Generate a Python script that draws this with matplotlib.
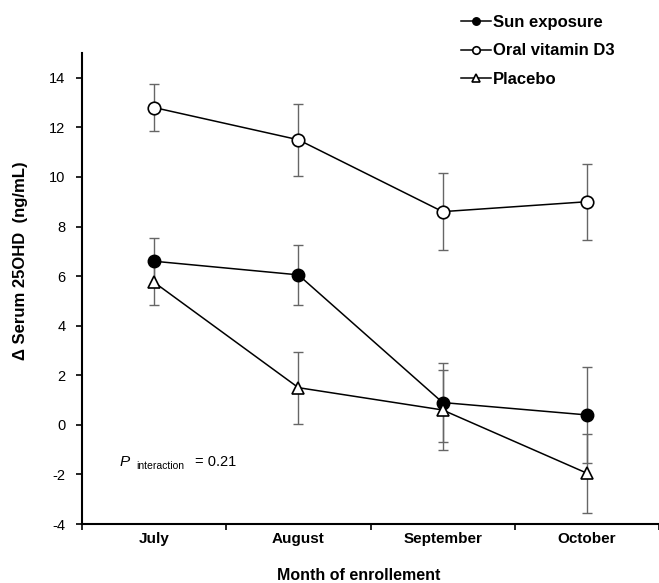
import matplotlib.pyplot as plt
import numpy as np

plt.rcParams['font.family'] = ['Liberation Sans', 'DejaVu Sans']
plt.rcParams['axes.unicode_minus'] = False

# data
months = ['July', 'August', 'September', 'October']
sun_mean = [6.6, 6.05, 0.9, 0.4]
sun_err = [0.95, 1.22, 1.6, 1.95]
oral_mean = [12.8, 11.5, 8.6, 9.0]
oral_err = [0.95, 1.45, 1.55, 1.53]
placebo_mean = [5.75, 1.5, 0.6, -1.95]
placebo_err = [0.9, 1.45, 1.6, 1.6]

W, H = 659, 583
fig = plt.figure(figsize=(W / 100, H / 100), dpi=100)
ax = fig.add_axes([82 / W, 1 - 524 / H, (659 - 82) / W, (524 - 53) / H])

x = np.arange(len(months)) + 0.5

# error bars first (thin gray), then lines + markers
for m, e in [(sun_mean, sun_err), (oral_mean, oral_err), (placebo_mean, placebo_err)]:
    ax.errorbar(x, m, yerr=e, fmt='none', ecolor='#666666', elinewidth=1,
                capsize=3.5, capthick=1, zorder=1)

ax.plot(x, sun_mean, color='black', lw=1.1, marker='o', ms=9,
        mfc='black', mec='black', label='Sun exposure', zorder=3)
ax.plot(x, oral_mean, color='black', lw=1.1, marker='o', ms=9,
        mfc='white', mec='black', mew=1.2, label='Oral vitamin D3', zorder=3)
ax.plot(x, placebo_mean, color='black', lw=1.1, marker='^', ms=9,
        mfc='white', mec='black', mew=1.2, label='Placebo', zorder=3)

ax.set_xlim(0, 4)
ax.set_ylim(-4, 15)
ax.set_yticks(np.arange(-4, 15, 2))
ax.set_xticks(np.arange(0, 5))
ax.set_xticklabels([])
ax.set_xticks(x, minor=True)
ax.set_xticklabels(months, minor=True, fontweight='bold', fontsize=11)
ax.tick_params(axis='x', which='minor', length=0, pad=6)
ax.tick_params(axis='x', which='major', length=4, width=1.2, direction='out')
ax.tick_params(axis='y', length=4, width=1.2, labelsize=10.5, pad=8)

for s in ['top', 'right']:
    ax.spines[s].set_visible(False)
for s in ['left', 'bottom']:
    ax.spines[s].set_linewidth(1.5)

fig.text(21 / W, 1 - 261 / H, 'Δ Serum 25OHD  (ng/mL)', rotation=90,
         fontweight='bold', fontsize=12, ha='center', va='center')
fig.text(359 / W, 3 / H, 'Month of enrollement', fontweight='bold',
         fontsize=11.5, ha='center', va='baseline')

ax.text(0.263, -1.65, 'P', fontsize=11, style='italic', va='baseline', ha='left')
ax.text(0.374, -1.77, 'interaction', fontsize=7.5, va='baseline', ha='left')
ax.text(0.783, -1.65, '= 0.21', fontsize=10.5, va='baseline', ha='left')

leg = fig.legend(loc='upper left', bbox_to_anchor=(461 / W, 1 - 15 / H),
                 frameon=False, prop={'weight': 'bold', 'size': 12},
                 handlelength=1.8, handletextpad=0.1, labelspacing=0.8,
                 markerscale=0.6, borderpad=0, borderaxespad=0)

fig.savefig('out.png', dpi=100)
